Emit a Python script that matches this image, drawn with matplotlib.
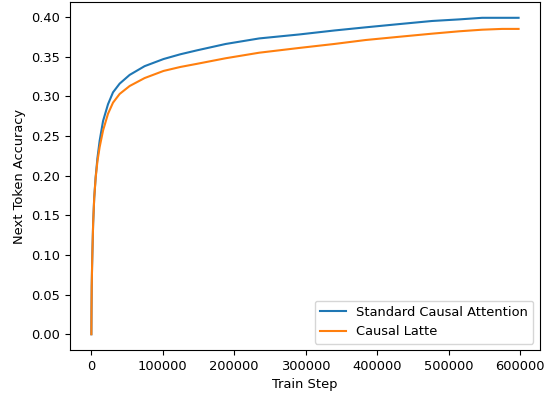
import matplotlib
matplotlib.use("Agg")
import matplotlib.pyplot as plt
import numpy as np

plt.rcParams["font.size"] = 9.4

steps = [0, 200, 500, 1000, 1500, 2500, 4000, 6000, 8500, 11600, 16400, 23300, 30300, 39600,
         53600, 74500, 101000, 124500, 148000, 188000, 235000, 291000, 340000, 384000, 430000,
         477000, 515000, 547000, 575000, 598000]

std_attn = [0.0, 0.03, 0.06, 0.085, 0.105, 0.14, 0.172, 0.198, 0.222, 0.244, 0.269, 0.290, 0.305,
            0.316, 0.327, 0.338, 0.347, 0.353, 0.358, 0.366, 0.373, 0.378, 0.383, 0.387, 0.391,
            0.395, 0.397, 0.399, 0.399, 0.399]

latte = [0.0, 0.03, 0.06, 0.085, 0.105, 0.14, 0.172, 0.197, 0.218, 0.236, 0.257, 0.278, 0.292,
         0.303, 0.313, 0.323, 0.332, 0.337, 0.341, 0.348, 0.355, 0.361, 0.366, 0.371, 0.375,
         0.379, 0.382, 0.384, 0.385, 0.385]

fig = plt.figure(figsize=(5.49, 3.96), dpi=100)
ax = fig.add_axes([0.1275, 0.116, 0.856, 0.879])
ax.plot(steps, std_attn, color="#1f77b4", label="Standard Causal Attention")
ax.plot(steps, latte, color="#ff7f0e", label="Causal Latte")
ax.set_xlabel("Train Step")
ax.set_ylabel("Next Token Accuracy")
ax.set_xticks([0, 100000, 200000, 300000, 400000, 500000, 600000])
ax.set_xticklabels(["0", "100000", "200000", "300000", "400000", "500000", "600000"])
ax.set_yticks(np.arange(0, 0.41, 0.05))
ax.set_yticklabels([f"{v:.2f}" for v in np.arange(0, 0.41, 0.05)])
ax.legend(loc="lower right")
fig.savefig("out.png", dpi=100)
